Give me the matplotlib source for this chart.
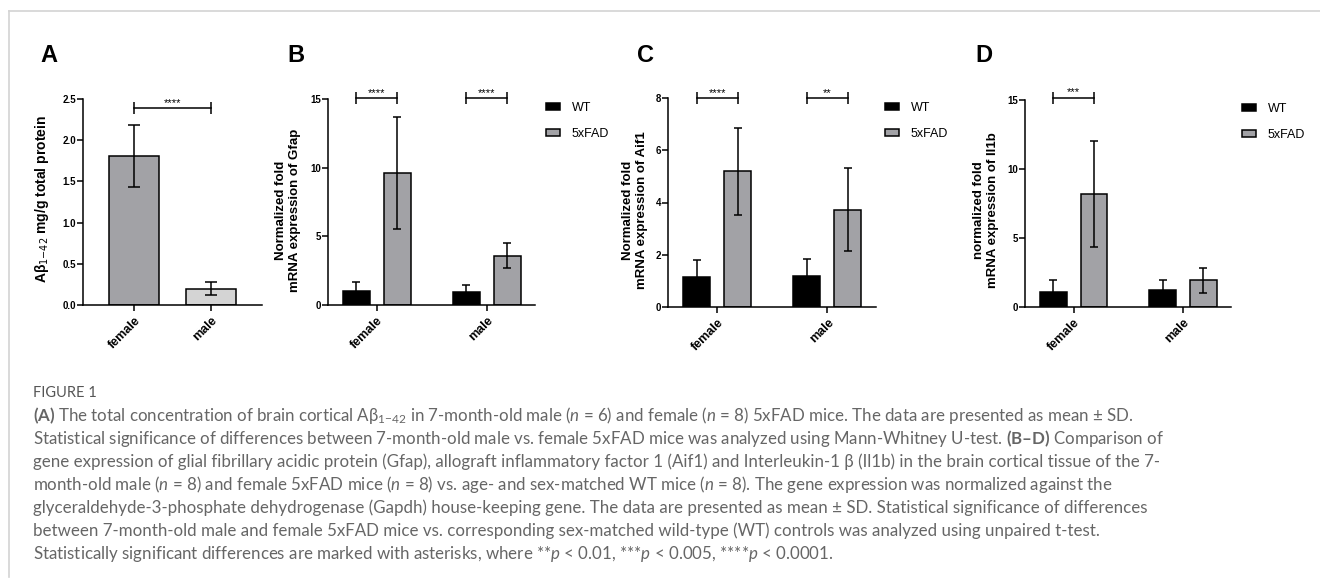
import numpy as np
import matplotlib
matplotlib.use('Agg')
import matplotlib.pyplot as plt
from matplotlib.patches import Patch
from matplotlib.lines import Line2D

W, H = 1320, 585

plt.rcParams['font.family'] = 'Liberation Sans'
plt.rcParams['mathtext.fontset'] = 'custom'
plt.rcParams['mathtext.rm'] = 'Lato'
plt.rcParams['mathtext.it'] = 'Lato:style=italic:weight=normal'
plt.rcParams['mathtext.bf'] = 'Lato:weight=bold'

groups = ['female', 'male']

# panel A - Abeta 1-42
abeta_mean = [1.81, 0.20]
abeta_sd = [0.38, 0.08]

# panel B - Gfap
gfap_wt = [1.05, 0.92]
gfap_wt_sd = [0.65, 0.52]
gfap_fad = [9.6, 3.6]
gfap_fad_sd = [4.1, 0.9]

# panel C - Aif1
aif1_wt = [1.15, 1.19]
aif1_wt_sd = [0.65, 0.65]
aif1_fad = [5.2, 3.73]
aif1_fad_sd = [1.67, 1.58]

# panel D - Il1b
il1b_wt = [1.11, 1.21]
il1b_wt_sd = [0.83, 0.75]
il1b_fad = [8.2, 1.93]
il1b_fad_sd = [3.85, 0.93]

GRAY = '#a2a2a6'
LIGHT = '#d4d4d4'
LW = 1.1

caption = [
    "$\\mathbf{(A)}$ The total concentration of brain cortical A\u03b2$_{1{-}42}$ in 7-month-old male ($\\mathit{n}$ = 6) and female ($\\mathit{n}$ = 8) 5xFAD mice. The data are presented as mean \u00b1 SD.",
    "Statistical significance of differences between 7-month-old male vs. female 5xFAD mice was analyzed using Mann-Whitney U-test. $\\mathbf{(B{\u2013}D)}$ Comparison of",
    "gene expression of glial fibrillary acidic protein (Gfap), allograft inflammatory factor 1 (Aif1) and Interleukin-1 \u03b2 (Il1b) in the brain cortical tissue of the 7-",
    "month-old male ($\\mathit{n}$ = 8) and female 5xFAD mice ($\\mathit{n}$ = 8) vs. age- and sex-matched WT mice ($\\mathit{n}$ = 8). The gene expression was normalized against the",
    "glyceraldehyde-3-phosphate dehydrogenase (Gapdh) house-keeping gene. The data are presented as mean \u00b1 SD. Statistical significance of differences",
    "between 7-month-old male and female 5xFAD mice vs. corresponding sex-matched wild-type (WT) controls was analyzed using unpaired t-test.",
    "Statistically significant differences are marked with asterisks, where **$\\mathit{p}$ < 0.01, ***$\\mathit{p}$ < 0.005, ****$\\mathit{p}$ < 0.0001.",
]


def make_axes(fig, x0, x1, ytop, ybot):
    return fig.add_axes([x0 / W, 1 - ybot / H, (x1 - x0) / W, (ybot - ytop) / H])


def style_axes(ax, ymax, step, fmt, xlim):
    for s in ['top', 'right']:
        ax.spines[s].set_visible(False)
    for s in ['left', 'bottom']:
        ax.spines[s].set_linewidth(LW)
    ax.set_ylim(0, ymax)
    ax.set_xlim(*xlim)
    ticks = np.arange(0, ymax + step / 2, step)
    ax.set_yticks(ticks, [fmt.format(t) for t in ticks], fontsize=7, fontweight='bold')
    ax.set_xticks([0, 1], groups, rotation=45, ha='right', va='top',
                  rotation_mode='anchor', fontsize=9, fontweight='bold')
    ax.tick_params(axis='y', length=4, width=LW, pad=1)
    ax.tick_params(axis='x', length=4, width=LW, pad=3)


def sig_bar(ax, x1, x2, y, stars):
    ax.plot([x1, x2], [y, y], color='black', lw=LW, clip_on=False)
    ax.plot([x1, x2], [y, y], ls='none', marker='|', ms=8, mew=LW, color='black', clip_on=False)
    ax.annotate(stars, ((x1 + x2) / 2, y), xytext=(0, 0.3), textcoords='offset points',
                ha='center', va='bottom', fontsize=8, annotation_clip=False)


def grouped_panel(fig, box, wt, wt_sd, fad, fad_sd, ymax, step, legend_xy):
    ax = make_axes(fig, *box)
    x = np.arange(len(groups))
    d, w = 0.186, 0.245
    ekw = dict(elinewidth=LW, capthick=LW, ecolor='black')
    ax.bar(x - d, wt, w, yerr=wt_sd, color='black', edgecolor='black', lw=LW,
           capsize=3, error_kw=ekw)
    ax.bar(x + d, fad, w, yerr=fad_sd, color=GRAY, edgecolor='black', lw=LW,
           capsize=3, error_kw=ekw)
    style_axes(ax, ymax, step, '{:.0f}', (-0.445, 1.44))
    handles = [Patch(facecolor='black', edgecolor='black', lw=LW, label='WT'),
               Patch(facecolor=GRAY, edgecolor='black', lw=LW, label='5xFAD')]
    ax.legend(handles=handles, loc='upper left',
              bbox_to_anchor=(legend_xy[0] / W, 1 - legend_xy[1] / H),
              bbox_transform=fig.transFigure, frameon=False, fontsize=9,
              handlelength=1.15, handleheight=0.55, handletextpad=0.9,
              labelspacing=1.1, borderpad=0, borderaxespad=0)
    return ax, x, d


def main():
    fig = plt.figure(figsize=(W / 100, H / 100), dpi=100)

    # frame lines of the figure box
    fig.add_artist(Line2D([9 / W, 1], [1 - 11 / H, 1 - 11 / H], color='#d3d3d3', lw=1.2))
    fig.add_artist(Line2D([9 / W, 9 / W], [1 - 11 / H, 1 - 577 / H], color='#d3d3d3', lw=1.2))

    # A
    ax = make_axes(fig, 83, 262, 99, 305)
    ax.bar([0, 1], abeta_mean, 0.65, yerr=abeta_sd, color=[GRAY, LIGHT],
           edgecolor='black', lw=LW, capsize=4,
           error_kw=dict(elinewidth=LW, capthick=LW, ecolor='black'))
    style_axes(ax, 2.5, 0.5, '{:.1f}', (-0.662, 1.662))
    sig_bar(ax, 0, 1, 2.39, '****')

    # B
    ax, x, d = grouped_panel(fig, (328, 535, 99, 305), gfap_wt, gfap_wt_sd,
                             gfap_fad, gfap_fad_sd, 15, 5, (546, 102))
    sig_bar(ax, x[0] - d, x[0] + d, 15.05, '****')
    sig_bar(ax, x[1] - d, x[1] + d, 15.05, '****')

    # C
    ax, x, d = grouped_panel(fig, (668, 876, 98, 307), aif1_wt, aif1_wt_sd,
                             aif1_fad, aif1_fad_sd, 8, 2, (885, 102))
    sig_bar(ax, x[0] - d, x[0] + d, 8.0, '****')
    sig_bar(ax, x[1] - d, x[1] + d, 8.0, '**')

    # D
    ax, x, d = grouped_panel(fig, (1025, 1231, 100, 307), il1b_wt, il1b_wt_sd,
                             il1b_fad, il1b_fad_sd, 15, 5, (1242, 103))
    sig_bar(ax, x[0] - d, x[0] + d, 15.15, '***')

    # panel letters
    for letter, px in zip('ABCD', [40, 287, 637, 975]):
        fig.text(px / W, 1 - 56 / H, letter, fontsize=17, fontweight='bold',
                 ha='left', va='center')

    # y labels
    fig.text(42 / W, 1 - 199 / H, 'A\u03b2$_{1{-}42}$ mg/g total protein', rotation=90,
             ha='center', va='center', fontsize=10, fontweight='bold',
             math_fontfamily='dejavusans')
    ylabels = [(288, 'Normalized fold\nmRNA expression of Gfap'),
               (635, 'Normalized fold\nmRNA expression of Aif1'),
               (986, 'normalized fold\nmRNA expression of Il1b')]
    for px, lab in ylabels:
        fig.text(px / W, 1 - 210 / H, lab, rotation=90, ha='center', va='center',
                 fontsize=9.5, fontweight='bold', multialignment='center')

    # caption
    fig.text(33 / W, 1 - 393 / H, 'FIGURE 1', family=['Lato', 'DejaVu Sans'],
             fontsize=10.5, color='#555555', va='center')
    for i, line in enumerate(caption):
        fig.text(33 / W, 1 - (415 + 23.2 * i) / H, line, family=['Lato', 'DejaVu Sans'],
                 fontsize=12.2, fontweight='normal', color='#666666', va='center')

    fig.savefig('out.png', dpi=100)
    plt.close(fig)


if __name__ == "__main__":
    main()
